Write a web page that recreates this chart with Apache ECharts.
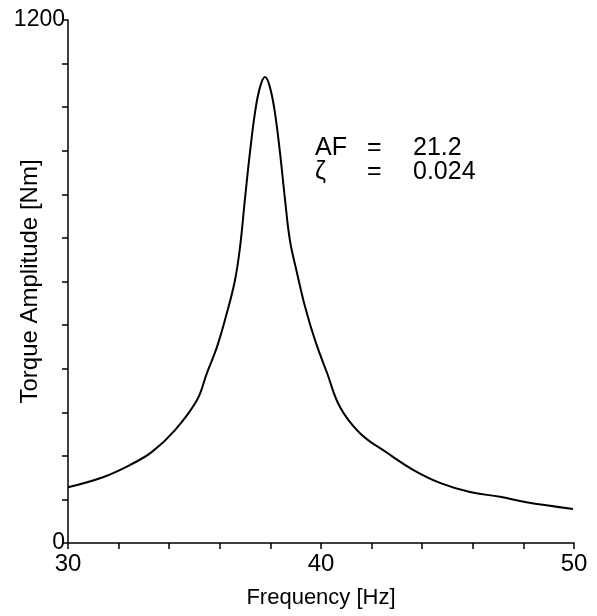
<!DOCTYPE html>
<html>
<head>
<meta charset="utf-8">
<script src="https://cdn.jsdelivr.net/npm/echarts@6/dist/echarts.min.js"></script>
<style>html,body{margin:0;padding:0;background:#fff}#c{width:597px;height:616px}</style>
</head>
<body>
<div id="c"></div>
<script>
const freq = [30.00,31.38,32.45,33.32,34.23,35.10,35.49,35.89,36.28,36.60,36.80,36.99,37.19,37.39,37.59,37.79,37.98,38.18,38.38,38.58,38.77,39.05,39.37,39.76,40.24,40.75,41.54,42.61,43.64,44.70,45.89,47.08,48.06,49.96];
const torque = [128,151,179,209,259,328,390,450,528,603,679,787,895,987,1046,1069,1046,987,895,787,695,620,542,466,390,312,252,207,168,138,117,106,94,78];
const xTickLabels = [30,40,50];
const yTickLabels = [0,1200];
const annotation = [["AF","=","21.2"],["ζ","=","0.024"]];

const font = '"Liberation Sans", Arial, sans-serif';
const chart = echarts.init(document.getElementById('c'));
const data = freq.map((f,i)=>[f,torque[i]]);
const gfx = [];
annotation.forEach((row,r)=>{
  const xs=[315,367,413];
  row.forEach((t,c)=>{
    gfx.push({type:'text',left:xs[c],top:136+r*24,style:{text:t,font:'25px '+font,fill:'#000'}});
  });
});
chart.setOption({
  animation:false,
  grid:{left:68,right:23,top:20,bottom:73,containLabel:false,outerBoundsMode:'none'},
  xAxis:{type:'value',min:30,max:50,interval:2,
    axisLine:{lineStyle:{color:'#000',width:1.5}},
    axisTick:{length:6,lineStyle:{color:'#000',width:1.5}},
    splitLine:{show:false},
    axisLabel:{color:'#000',fontSize:24,fontFamily:font,margin:9,
      formatter:v=>xTickLabels.includes(v)?String(v):''},
    name:'Frequency [Hz]',nameLocation:'middle',nameGap:44,nameMoveOverlap:false,
    nameTextStyle:{color:'#000',fontSize:22,fontFamily:font}},
  yAxis:{type:'value',min:0,max:1200,interval:100,
    axisLine:{show:true,lineStyle:{color:'#000',width:1.5}},
    axisTick:{show:true,length:6,lineStyle:{color:'#000',width:1.5}},
    splitLine:{show:false},
    axisLabel:{color:'#000',fontSize:23,fontFamily:font,margin:3,
      formatter:v=>yTickLabels.includes(v)?String(v):''},
    name:'Torque Amplitude [Nm]',nameLocation:'middle',nameGap:26,nameMoveOverlap:false,
    nameTextStyle:{color:'#000',fontSize:24,fontFamily:font}},
  series:[{type:'line',data:data,showSymbol:false,smooth:0.4,
    lineStyle:{color:'#000',width:2}}],
  graphic:gfx
});
</script>
</body>
</html>
